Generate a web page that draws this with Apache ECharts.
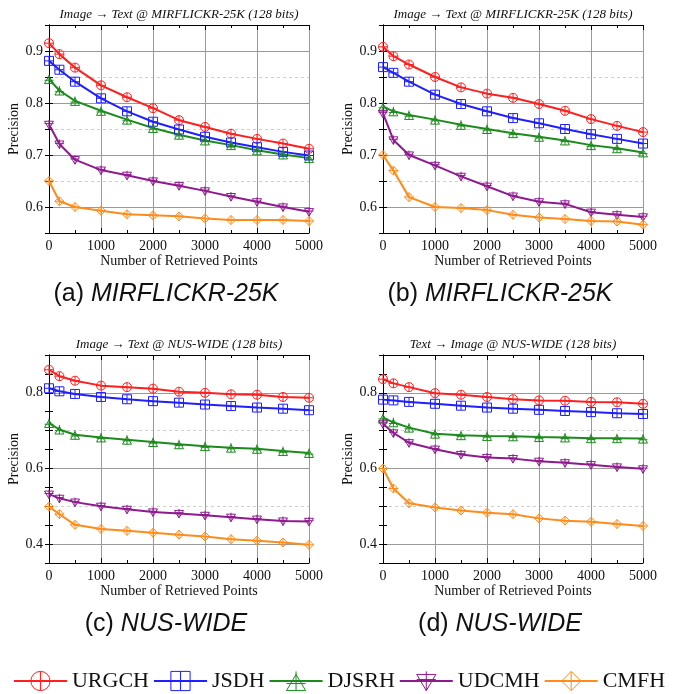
<!DOCTYPE html>
<html><head><meta charset="utf-8">
<script src="https://cdn.jsdelivr.net/npm/echarts@6/dist/echarts.min.js"></script>
<style>html,body{margin:0;padding:0;background:#fff}#c{width:678px;height:694px}</style>
</head><body><div id="c"></div><script>
// ---- data ----
const xPoints = [0, 200, 500, 1000, 1500, 2000, 2500, 3000, 3500, 4000, 4500, 5000];
const methods = ['URGCH', 'JSDH', 'DJSRH', 'UDCMH', 'CMFH'];
const panelTitles = [
  'Image \u2192 Text @ MIRFLICKR-25K (128 bits)',
  'Image \u2192 Text @ MIRFLICKR-25K (128 bits)',
  'Image \u2192 Text @ NUS-WIDE (128 bits)',
  'Text \u2192 Image @ NUS-WIDE (128 bits)'
];
const captionLetters = ['(a) ', '(b) ', '(c) ', '(d) '];
const captionNames = ['MIRFLICKR-25K', 'MIRFLICKR-25K', 'NUS-WIDE', 'NUS-WIDE'];
const xAxisName = 'Number of Retrieved Points';
const yAxisName = 'Precision';

// (a) Image->Text MIRFLICKR-25K
const a_URGCH = [0.915, 0.894, 0.868, 0.834, 0.811, 0.790, 0.767, 0.754, 0.741, 0.731, 0.722, 0.712];
const a_JSDH  = [0.881, 0.864, 0.841, 0.809, 0.784, 0.764, 0.749, 0.735, 0.724, 0.715, 0.706, 0.699];
const a_DJSRH = [0.846, 0.824, 0.804, 0.785, 0.768, 0.752, 0.739, 0.728, 0.719, 0.709, 0.701, 0.694];
const a_UDCMH = [0.759, 0.721, 0.691, 0.671, 0.661, 0.650, 0.641, 0.631, 0.620, 0.610, 0.600, 0.591];
const a_CMFH  = [0.650, 0.611, 0.600, 0.593, 0.586, 0.584, 0.582, 0.578, 0.575, 0.575, 0.575, 0.573];
// (b) MIRFLICKR-25K
const b_URGCH = [0.908, 0.890, 0.874, 0.850, 0.830, 0.818, 0.810, 0.798, 0.785, 0.769, 0.756, 0.744];
const b_JSDH  = [0.869, 0.858, 0.841, 0.816, 0.798, 0.784, 0.771, 0.761, 0.750, 0.740, 0.731, 0.722];
const b_DJSRH = [0.793, 0.784, 0.777, 0.768, 0.758, 0.750, 0.742, 0.735, 0.728, 0.719, 0.713, 0.705];
const b_UDCMH = [0.780, 0.729, 0.700, 0.680, 0.659, 0.640, 0.621, 0.610, 0.606, 0.590, 0.585, 0.581];
const b_CMFH  = [0.700, 0.670, 0.619, 0.600, 0.598, 0.594, 0.585, 0.580, 0.577, 0.573, 0.572, 0.566];
// (c) Image->Text NUS-WIDE
const c_URGCH = [0.861, 0.844, 0.832, 0.819, 0.815, 0.811, 0.803, 0.800, 0.796, 0.795, 0.789, 0.787];
const c_JSDH  = [0.812, 0.804, 0.797, 0.789, 0.783, 0.778, 0.774, 0.769, 0.765, 0.761, 0.758, 0.754];
const c_DJSRH = [0.720, 0.703, 0.689, 0.682, 0.676, 0.670, 0.664, 0.659, 0.655, 0.652, 0.646, 0.641];
const c_UDCMH = [0.532, 0.521, 0.511, 0.500, 0.492, 0.485, 0.481, 0.476, 0.471, 0.466, 0.461, 0.460];
const c_CMFH  = [0.499, 0.479, 0.451, 0.440, 0.435, 0.430, 0.425, 0.420, 0.413, 0.409, 0.404, 0.398];
// (d) Text->Image NUS-WIDE
const d_URGCH = [0.836, 0.825, 0.815, 0.799, 0.795, 0.789, 0.783, 0.780, 0.779, 0.776, 0.775, 0.771];
const d_JSDH  = [0.782, 0.780, 0.776, 0.771, 0.766, 0.761, 0.758, 0.755, 0.752, 0.749, 0.746, 0.744];
const d_DJSRH = [0.734, 0.722, 0.708, 0.692, 0.688, 0.686, 0.685, 0.683, 0.682, 0.680, 0.680, 0.679];
const d_UDCMH = [0.718, 0.694, 0.668, 0.651, 0.637, 0.629, 0.626, 0.619, 0.615, 0.610, 0.604, 0.599];
const d_CMFH  = [0.600, 0.547, 0.508, 0.497, 0.489, 0.483, 0.479, 0.468, 0.462, 0.459, 0.453, 0.448];

const panelData = [
  [a_URGCH, a_JSDH, a_DJSRH, a_UDCMH, a_CMFH],
  [b_URGCH, b_JSDH, b_DJSRH, b_UDCMH, b_CMFH],
  [c_URGCH, c_JSDH, c_DJSRH, c_UDCMH, c_CMFH],
  [d_URGCH, d_JSDH, d_DJSRH, d_UDCMH, d_CMFH]
];
const yMins = [0.55, 0.55, 0.35, 0.35];
const yMaxs = [0.95, 0.95, 0.90, 0.90];

// ---- styling ----
const colors = ['#ff1f1f', '#1f1fff', '#1c8a1c', '#8e1a8e', '#ff8c1a'];
const symbols = [
  'path://M2,10A8,8,0,1,1,18,10A8,8,0,1,1,2,10ZM10,2L10,18M2,10L18,10',
  'path://M2,2L18,2L18,18L2,18ZM10,2L10,18M2,10L18,10',
  'path://M1,19L10,3L19,19ZM10,0L10,19M1,12L19,12',
  'path://M1,3L19,3L10,19ZM10,0L10,19M1,8L19,8',
  'path://M10,1L19,10L10,19L1,10ZM10,1L10,19M1,10L19,10'
];
const serif = 'Liberation Serif';
const grids = [
  { left: 49, top: 25, width: 260, height: 208 },
  { left: 383, top: 25, width: 260, height: 208 },
  { left: 49, top: 355, width: 260, height: 208 },
  { left: 383, top: 355, width: 260, height: 208 }
];

const xAxes = [], yAxes = [], series = [], graphics = [];
grids.forEach((g, p) => {
  const isTop = p < 2;
  // bottom x axis
  xAxes.push({
    gridIndex: p, type: 'value', min: 0, max: 5000, interval: 1000, position: 'bottom',
    name: xAxisName, nameLocation: 'middle', nameGap: 19,
    nameTextStyle: { fontFamily: serif, fontSize: 14, color: '#111' },
    axisLine: { show: true, lineStyle: { color: '#000', width: 1 } },
    axisTick: { show: true, inside: true, length: 5, lineStyle: { color: '#000' } },
    minorTick: { show: true, splitNumber: 2, length: 3, lineStyle: { color: '#000' } },
    axisLabel: { fontFamily: serif, fontSize: 14, color: '#111', margin: 6, formatter: v => String(v) },
    splitLine: { show: true, lineStyle: { color: '#9a9a9a', width: 1 } }
  });
  // top mirror x axis
  xAxes.push({
    gridIndex: p, type: 'value', min: 0, max: 5000, interval: 1000, position: 'top',
    axisLine: { show: true, lineStyle: { color: '#000', width: 1 } },
    axisTick: { show: true, inside: true, length: 5, lineStyle: { color: '#000' } },
    minorTick: { show: true, splitNumber: 2, length: 3, lineStyle: { color: '#000' } },
    axisLabel: { show: false }, splitLine: { show: false }
  });
  const solidCycle = isTop ? ['rgba(0,0,0,0)', '#9a9a9a'] : ['rgba(0,0,0,0)', '#9a9a9a', 'rgba(0,0,0,0)', 'rgba(0,0,0,0)'];
  const dashCycle = isTop ? ['#cfcfcf', 'rgba(0,0,0,0)'] : ['rgba(0,0,0,0)', 'rgba(0,0,0,0)', 'rgba(0,0,0,0)', '#cfcfcf'];
  const step = isTop ? 10 : 20;
  // left y axis
  yAxes.push({
    gridIndex: p, type: 'value', min: yMins[p], max: yMaxs[p], interval: 0.05, position: 'left',
    name: yAxisName, nameLocation: 'middle', nameGap: 24, nameRotate: 90,
    nameTextStyle: { fontFamily: serif, fontSize: 14, color: '#111' },
    axisLine: { show: true, lineStyle: { color: '#000', width: 1 } },
    axisTick: { show: true, inside: true, length: 4, lineStyle: { color: '#000' } },
    axisLabel: {
      fontFamily: serif, fontSize: 14, color: '#111', margin: 6,
      formatter: v => (Math.round(v * 100) % step === 0 ? v.toFixed(1) : '')
    },
    splitLine: { show: true, lineStyle: { color: dashCycle, width: 1, type: [3, 3] } }
  });
  // right mirror y axis
  yAxes.push({
    gridIndex: p, type: 'value', min: yMins[p], max: yMaxs[p], interval: 0.05, position: 'right',
    axisLine: { show: true, lineStyle: { color: '#000', width: 1 } },
    axisTick: { show: true, inside: true, length: 4, lineStyle: { color: '#000' } },
    axisLabel: { show: false },
    splitLine: { show: true, lineStyle: { color: solidCycle, width: 1 } }
  });
  methods.forEach((m, k) => {
    series.push({
      name: m, type: 'line', xAxisIndex: 2 * p, yAxisIndex: 2 * p,
      data: xPoints.map((x, i) => [x, panelData[p][k][i]]),
      symbol: symbols[k], symbolSize: 9, showAllSymbol: true,
      lineStyle: { color: colors[k], width: 2 },
      itemStyle: { color: 'rgba(0,0,0,0)', borderColor: colors[k], borderWidth: 1 },
      emphasis: { disabled: true }, animation: false
    });
  });
  const cx = g.left + g.width / 2;
  graphics.push({
    type: 'text', x: cx, y: g.top - 10,
    style: { text: panelTitles[p], fontFamily: serif, fontSize: 13, fontStyle: 'italic', fill: '#111',
      align: 'center', verticalAlign: 'middle', textAlign: 'center', textVerticalAlign: 'middle' }
  });
  graphics.push({
    type: 'text', x: cx - 13, y: g.top + g.height + 61,
    style: {
      text: '{n|' + captionLetters[p] + '}{i|' + captionNames[p] + '}',
      rich: {
        n: { fontFamily: 'Liberation Sans', fontSize: 25, fill: '#111' },
        i: { fontFamily: 'Liberation Sans', fontSize: 25, fontStyle: 'italic', fill: '#111' }
      },
      align: 'center', verticalAlign: 'middle', textAlign: 'center', textVerticalAlign: 'middle'
    }
  });
});

const chart = echarts.init(document.getElementById('c'), null, { renderer: 'canvas' });
chart.setOption({
  backgroundColor: '#fff',
  animation: false,
  grid: grids,
  xAxis: xAxes,
  yAxis: yAxes,
  legend: {
    data: methods, left: 'center', top: 665, itemWidth: 53, itemHeight: 24, itemGap: 4,
    itemStyle: { borderWidth: 1 },
    textStyle: { fontFamily: serif, fontSize: 22, color: '#111' }
  },
  graphic: graphics,
  series: series
});
</script></body></html>
